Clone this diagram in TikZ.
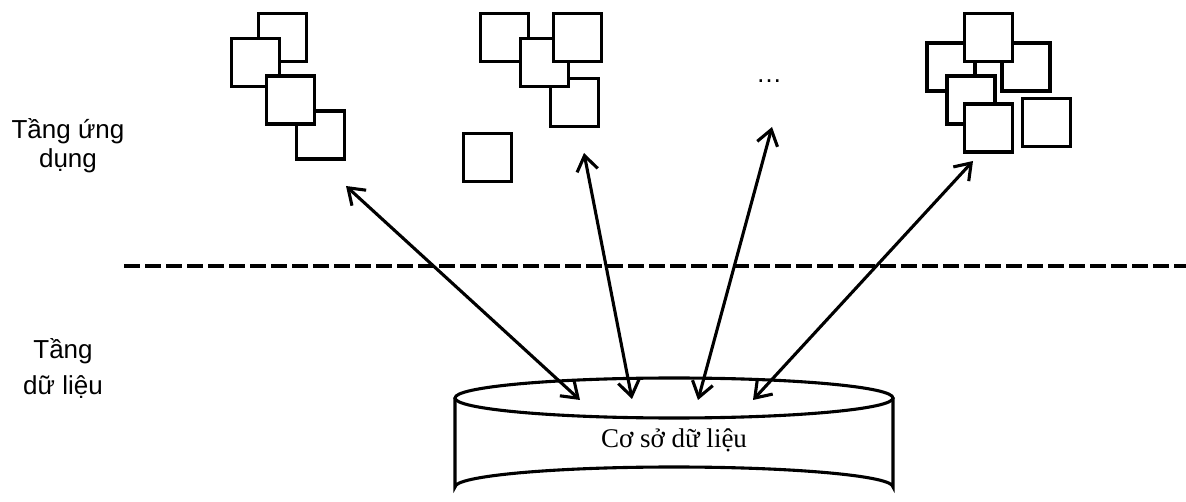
\documentclass[tikz,border=0pt]{standalone}
\usepackage{fontspec}
\setmainfont{Liberation Sans}
\newfontfamily\dbfont{Liberation Serif}
\usetikzlibrary{arrows.meta}
\begin{document}
\begin{tikzpicture}[x=1pt,y=-1pt,
  modbox/.style={draw,line width=3.2pt,fill=white,minimum size=48pt,inner sep=0pt},
  layertext/.style={align=center,font=\fontsize{26}{29}\selectfont,inner sep=0pt},
  link/.style={line width=3.1pt,{Straight Barb[length=15pt,width=21pt]}-{Straight Barb[length=15pt,width=21pt]}},
  divider/.style={line width=4.2pt,dash pattern=on 16pt off 5pt},
  dbline/.style={line width=3.1pt}]
\useasboundingbox (0,0) rectangle (1186,502);

% first group of modules
\node[modbox] (a1) at (282.5,37.5) {};
\node[modbox] (a2) at (255.5,62.5) {};
\node[modbox] (a4) at (320.5,135) {};
\node[modbox] (a3) at (290.5,100) {};

% second group of modules
\node[modbox] (b1) at (504.5,37.5) {};
\node[modbox] (b4) at (574.5,102.5) {};
\node[modbox] (b2) at (544.5,62.5) {};
\node[modbox] (b3) at (577.5,37.5) {};
\node[modbox] (b5) at (487.5,157.5) {};

% ellipsis for further applications
\node[font=\fontsize{26}{29}\selectfont,anchor=base,inner sep=0pt] (more) at (769,83) {…};

% last group of modules
\node[modbox] (c2) at (951,67) {};
\node[modbox] (c3) at (1026,67) {};
\node[modbox] (c1) at (988.5,37.5) {};
\node[modbox] (c4) at (971,100) {};
\node[modbox] (c5) at (988.5,128) {};
\node[modbox] (c6) at (1046.5,122.5) {};

% layer labels (base anchor sits on the last line)
\node[layertext,anchor=base] (app) at (68,168) {Tầng ứng\\dụng};
\node[layertext,anchor=base,font=\fontsize{26}{36}\selectfont] (data) at (63,395) {Tầng\\dữ liệu};

% boundary between the layers
\coordinate (dl) at (124,266);
\coordinate (dr) at (1186,266);
\draw[divider] (dl) -- (dr);

% database cylinder
\draw[dbline,fill=white] (455,398) -- (455,487) arc[start angle=180,end angle=360,x radius=219,y radius=20] -- (893,398);
\draw[dbline] (674,398) ellipse[x radius=219,y radius=20];
\node[font=\dbfont\fontsize{27}{30}\selectfont,anchor=base,inner sep=0pt] (db) at (674,447) {Cơ sở dữ liệu};

% connector end points
\coordinate (p1) at (346,186);
\coordinate (p2) at (584,153);
\coordinate (p3) at (772,127);
\coordinate (p4) at (973,161);
\coordinate (q1) at (580,400);
\coordinate (q2) at (632,399);
\coordinate (q3) at (698,400);
\coordinate (q4) at (753,400);

\draw[link] (p1) -- (q1);
\draw[link] (p2) -- (q2);
\draw[link] (p3) -- (q3);
\draw[link] (p4) -- (q4);
\end{tikzpicture}
\end{document}
